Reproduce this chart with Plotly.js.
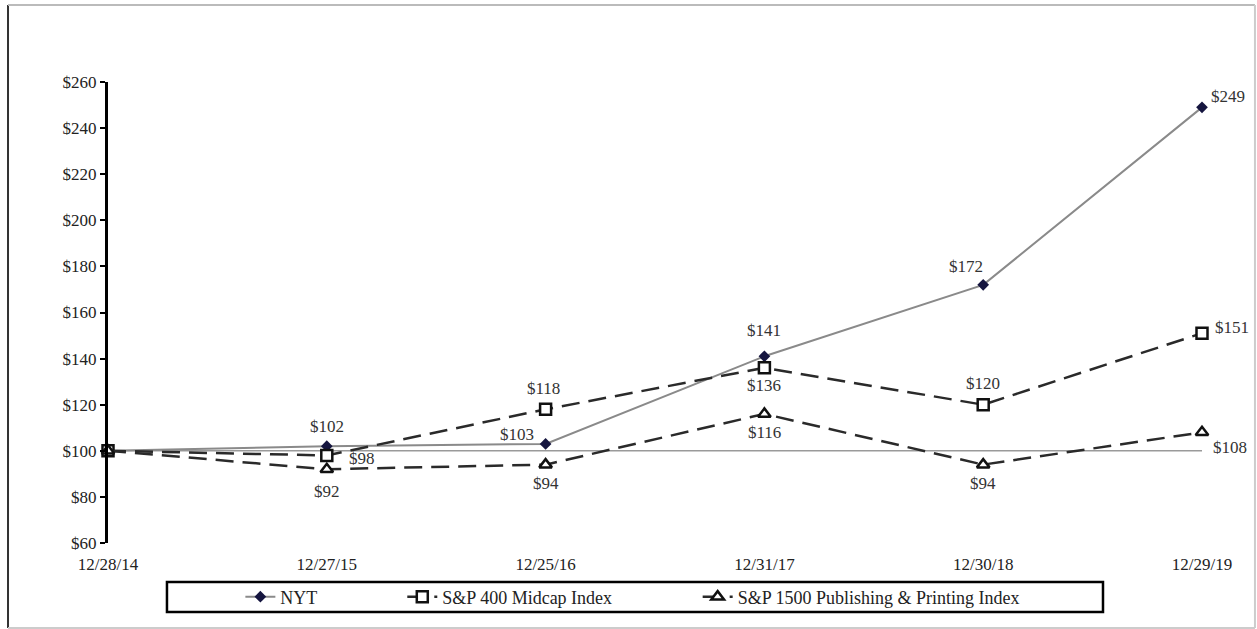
<!DOCTYPE html>
<html>
<head>
<meta charset="utf-8">
<script src="https://cdn.plot.ly/plotly-3.0.1.min.js"></script>
<style>
  html, body { margin: 0; padding: 0; background: #fff; }
  #chart { width: 1257px; height: 629px; }
</style>
</head>
<body>
<div id="chart"></div>
<script>
// ---- data ----
const dates = ["12/28/14", "12/27/15", "12/25/16", "12/31/17", "12/30/18", "12/29/19"];
const nyt = [100, 102, 103, 141, 172, 249];
const midcap = [100, 98, 118, 136, 120, 151];
const publishing = [100, 92, 94, 116, 94, 108];
const seriesNames = ["NYT", "S&P 400 Midcap Index", "S&P 1500 Publishing & Printing Index"];
const baseline = 100;
const yTicks = [60, 80, 100, 120, 140, 160, 180, 200, 220, 240, 260];
const yTickText = yTicks.map(v => "$" + v);

// ---- label offsets (style) ----
const nytOff = [null, [0, 20], [-29, 9], [0, 26], [-17, 18], [26, 11]];
const midOff = [null, [35, -3], [-2, 21], [0, -18], [0, 21], [30, 6]];
const pubOff = [null, [0, -22], [0, -19], [0, -19], [0, -19], [28, -15]];

const font = "Liberation Serif, Times New Roman, serif";

const traces = [
  {
    x: dates, y: nyt, name: seriesNames[0], type: "scatter", mode: "lines+markers",
    line: { color: "#8a8a8a", width: 2 },
    marker: { symbol: "diamond", size: 9, color: "#15153f" },
    cliponaxis: false, legend: "legend"
  },
  {
    x: dates, y: midcap, name: seriesNames[1], type: "scatter", mode: "lines+markers",
    line: { color: "#2a2a2a", width: 2.5, dash: "18px,9px" },
    marker: { symbol: "square", size: 11, color: "#fff", line: { color: "#111", width: 2.5 } },
    cliponaxis: false, legend: "legend2"
  },
  {
    x: dates, y: publishing, name: seriesNames[2], type: "scatter", mode: "lines+markers",
    line: { color: "#2a2a2a", width: 2.5, dash: "18px,9px" },
    marker: { symbol: "triangle-up", size: 11, color: "#fff", line: { color: "#111", width: 2.5 } },
    cliponaxis: false, legend: "legend3"
  }
];

const annotations = [];
function addLabels(vals, offs) {
  vals.forEach((v, i) => {
    if (!offs[i]) return;
    annotations.push({
      x: dates[i], y: v, xref: "x", yref: "y", text: "$" + v, showarrow: false,
      xshift: offs[i][0], yshift: offs[i][1],
      font: { family: font, size: 17, color: "#333" }
    });
  });
}
addLabels(nyt, nytOff);
addLabels(midcap, midOff);
addLabels(publishing, pubOff);

const legendCommon = {
  orientation: "h", yanchor: "middle", y: -0.117, xanchor: "left",
  bgcolor: "rgba(0,0,0,0)", borderwidth: 0,
  font: { family: font, size: 18, color: "#222" }
};

const layout = {
  width: 1257, height: 629,
  margin: { l: 108, r: 55, t: 82, b: 86 },
  paper_bgcolor: "#fff", plot_bgcolor: "#fff",
  showlegend: true,
  xaxis: {
    type: "category", range: [0, 5], showgrid: false, zeroline: false, showline: false,
    ticks: "outside", ticklen: 6, tickcolor: "rgba(0,0,0,0)",
    tickfont: { family: font, size: 17, color: "#222" }, fixedrange: true
  },
  yaxis: {
    range: [60, 260], tickmode: "array", tickvals: yTicks, ticktext: yTickText,
    showgrid: false, zeroline: false,
    showline: true, linecolor: "#000", linewidth: 3,
    ticks: "outside", ticklen: 5, tickwidth: 2, tickcolor: "#000",
    tickfont: { family: font, size: 17, color: "#222" }, fixedrange: true
  },
  legend: Object.assign({}, legendCommon, { x: 0.121 }),
  legend2: Object.assign({}, legendCommon, { x: 0.269 }),
  legend3: Object.assign({}, legendCommon, { x: 0.539 }),
  annotations: annotations,
  shapes: [
    { type: "line", xref: "x", yref: "y", x0: dates[0], x1: dates[dates.length - 1], y0: baseline, y1: baseline,
      line: { color: "#9a9a9a", width: 1.5 }, layer: "below" },
    { type: "rect", xref: "paper", yref: "paper", x0: 0.0539, x1: 0.9095, y0: -0.0846, y1: -0.1497,
      line: { color: "#000", width: 2.5 } },
    // outer frame
    { type: "line", xref: "paper", yref: "paper", x0: -0.0914, x1: -0.0914, y0: 1.167, y1: -0.1844,
      line: { color: "#333", width: 2 } },
    { type: "line", xref: "paper", yref: "paper", x0: -0.0914, x1: 1.0484, y0: 1.167, y1: 1.167,
      line: { color: "#bbb", width: 2 } },
    { type: "line", xref: "paper", yref: "paper", x0: 1.0484, x1: 1.0484, y0: 1.167, y1: -0.1844,
      line: { color: "#ccc", width: 2 } },
    { type: "line", xref: "paper", yref: "paper", x0: -0.0914, x1: 1.0484, y0: -0.1844, y1: -0.1844,
      line: { color: "#ccc", width: 2 } }
  ]
};

Plotly.newPlot("chart", traces, layout, { displayModeBar: false, staticPlot: true });
</script>
</body>
</html>
